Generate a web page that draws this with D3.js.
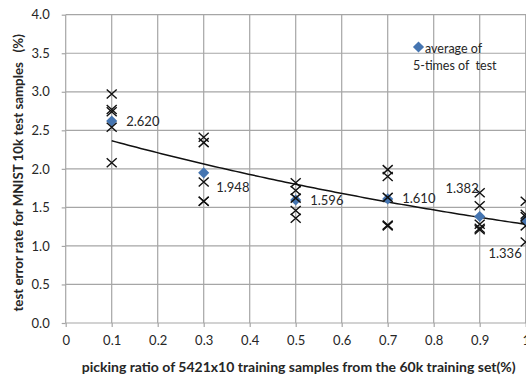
<!DOCTYPE html>
<html><head><meta charset="utf-8">
<script src="https://cdn.jsdelivr.net/npm/d3@7"></script>
<style>
html,body{margin:0;padding:0;background:#fff;overflow:hidden;}
svg{display:block;font-family:Lato,"Open Sans",sans-serif;}
text{white-space:pre;}
</style></head>
<body><svg id="c" width="526" height="378"></svg>
<script>
// ---- data ----
const ratios = [0.1, 0.3, 0.5, 0.7, 0.9, 1.0];
const runs = [
  [2.97, 2.77, 2.74, 2.54, 2.08],
  [2.41, 2.34, 1.83, 1.58, 1.58],
  [1.82, 1.72, 1.62, 1.46, 1.36],
  [1.99, 1.90, 1.63, 1.27, 1.26],
  [1.69, 1.52, 1.28, 1.23, 1.21],
  [1.58, 1.41, 1.38, 1.26, 1.05]
];
const averages = [2.620, 1.948, 1.596, 1.610, 1.382, 1.336];
const avgLabels = ["2.620", "1.948", "1.596", "1.610", "1.382", "1.336"];
const labelPlacement = ["right", "belowRight", "right", "right", "aboveLeft", "belowLeft"];
const xTicks = [0, 0.1, 0.2, 0.3, 0.4, 0.5, 0.6, 0.7, 0.8, 0.9, 1];
const xTickLabels = ["0", "0.1", "0.2", "0.3", "0.4", "0.5", "0.6", "0.7", "0.8", "0.9", "1"];
const yTicks = [0, 0.5, 1, 1.5, 2, 2.5, 3, 3.5, 4];
const yTickLabels = ["0.0", "0.5", "1.0", "1.5", "2.0", "2.5", "3.0", "3.5", "4.0"];
const xTitle = "picking ratio of 5421x10 training samples from the 60k training set(%)";
const yTitle = "test error rate for MNIST 10k test samples   (%)";
const legendLines = ["average of", "5-times of  test"];

// ---- layout ----
const L = 65.7, R = 525.7, T = 14.7, B = 323;
const svg = d3.select("#c");
const x = d3.scaleLinear().domain([0, 1]).range([L, R]);
const y = d3.scaleLinear().domain([0, 4]).range([B, T]);
const grid = "#a6a6a6", txt = "#262626";

// gridlines
svg.append("g").selectAll("line").data(yTicks.filter(d => d > 0)).join("line")
  .attr("x1", L).attr("x2", R + 2).attr("y1", d => y(d)).attr("y2", d => y(d))
  .attr("stroke", grid).attr("stroke-width", 1.2);
svg.append("g").selectAll("line").data(xTicks.filter(d => d > 0)).join("line")
  .attr("x1", d => x(d)).attr("x2", d => x(d)).attr("y1", T).attr("y2", B)
  .attr("stroke", grid).attr("stroke-width", 1.2);

// axes
const yAxis = svg.append("g").attr("transform", `translate(${L},0)`)
  .call(d3.axisLeft(y).tickValues(yTicks).tickFormat((d, i) => yTickLabels[i]).tickSize(4).tickPadding(12));
const xAxis = svg.append("g").attr("transform", `translate(0,${B})`)
  .call(d3.axisBottom(x).tickValues(xTicks).tickFormat((d, i) => xTickLabels[i]).tickSize(4).tickPadding(9));
[yAxis, xAxis].forEach(a => {
  a.select(".domain").attr("stroke", grid).attr("stroke-width", 1.2);
  a.selectAll(".tick line").attr("stroke", grid).attr("stroke-width", 1.2);
  a.selectAll(".tick text").attr("fill", txt).style("font-size", "13px").style("font-family", "Lato");
});
xAxis.select(".domain").attr("d", `M${L},0H${R + 2}`);
yAxis.select(".domain").attr("d", `M0,${T}V${B}`);

// trend line: exponential least-squares fit on averages
const n = ratios.length;
const lx = ratios, ly = averages.map(Math.log);
const mx = d3.mean(lx), my = d3.mean(ly);
const bFit = d3.sum(lx.map((v, i) => (v - mx) * (ly[i] - my))) / d3.sum(lx.map(v => (v - mx) ** 2));
const aFit = Math.exp(my - bFit * mx);
const trendX = d3.range(0, 101).map(i => ratios[0] + (ratios[n - 1] - ratios[0]) * i / 100);
svg.append("path")
  .attr("d", d3.line().x(d => x(d)).y(d => y(aFit * Math.exp(bFit * d)))(trendX))
  .attr("fill", "none").attr("stroke", "#111").attr("stroke-width", 1.5);

// average diamonds
const blue = "#4575b1";
svg.append("g").selectAll("path").data(averages).join("path")
  .attr("d", d3.symbol().type(d3.symbolSquare).size(62))
  .attr("transform", (d, i) => `translate(${x(ratios[i])},${y(d)}) rotate(45)`)
  .attr("fill", blue);

// run crosses
const pts = [];
runs.forEach((arr, i) => arr.forEach(v => pts.push([ratios[i], v])));
const crossPath = "M-5,-4.5L5,4.5M-5,4.5L5,-4.5";
svg.append("g").selectAll("path").data(pts).join("path")
  .attr("d", crossPath)
  .attr("transform", d => `translate(${x(d[0])},${y(d[1])})`)
  .attr("fill", "none").attr("stroke", "#111").attr("stroke-width", 1.4);

// data labels
const offs = {
  right: [14.5, 0, "start"],
  belowRight: [12.5, 15, "start"],
  aboveLeft: [-1, -28, "end"],
  belowLeft: [-4, 33.5, "end"]
};
svg.append("g").selectAll("text").data(averages).join("text")
  .attr("x", (d, i) => x(ratios[i]) + offs[labelPlacement[i]][0])
  .attr("y", (d, i) => y(d) + offs[labelPlacement[i]][1])
  .attr("dy", "0.35em")
  .attr("text-anchor", (d, i) => offs[labelPlacement[i]][2])
  .attr("fill", txt).style("font-size", "13px")
  .text((d, i) => avgLabels[i]);

// legend
svg.append("path").attr("d", d3.symbol().type(d3.symbolSquare).size(62))
  .attr("transform", "translate(418.5,47) rotate(45)").attr("fill", blue);
svg.append("text").attr("x", 425).attr("y", 49).attr("dy", "0.35em")
  .attr("fill", txt).style("font-size", "12.5px").text(legendLines[0]);
svg.append("text").attr("x", 413).attr("y", 66).attr("dy", "0.35em")
  .attr("fill", txt).style("font-size", "12.5px").text(legendLines[1]);

// axis titles
svg.append("text").attr("x", (L + R) / 2 + 3).attr("y", 368).attr("dy", "0.3em")
  .attr("text-anchor", "middle").attr("fill", txt)
  .style("font-size", "14px").style("font-weight", "bold").text(xTitle);
svg.append("text").attr("transform", `translate(18,${(T + B) / 2 + 4}) rotate(-90)`)
  .attr("dy", "0.35em").attr("text-anchor", "middle").attr("fill", txt)
  .style("font-size", "13.3px").style("font-weight", "bold").text(yTitle);
</script></body></html>
